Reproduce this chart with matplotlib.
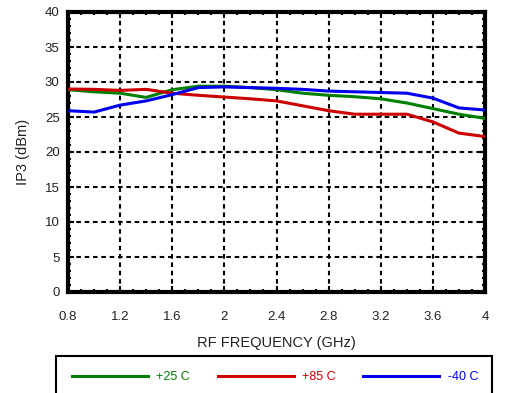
import matplotlib
matplotlib.use("Agg")
import matplotlib.pyplot as plt
from matplotlib.patches import Rectangle
from matplotlib.ticker import MultipleLocator

plt.rcParams['font.family'] = ['Liberation Sans', 'DejaVu Sans']

# RF frequency (GHz)
freq = [0.8, 1.0, 1.2, 1.4, 1.6, 1.8, 2.0, 2.2, 2.4, 2.6, 2.8, 3.0, 3.2, 3.4, 3.6, 3.8, 4.0]
# IP3 (dBm) per temperature
ip3_25 = [28.9, 28.6, 28.4, 27.8, 28.9, 29.4, 29.4, 29.2, 28.9, 28.4, 28.1, 27.9, 27.6, 27.0, 26.2, 25.4, 24.8]
ip3_85 = [29.0, 28.95, 28.8, 28.95, 28.4, 28.1, 27.85, 27.6, 27.3, 26.6, 25.9, 25.4, 25.4, 25.4, 24.3, 22.7, 22.2]
ip3_m40 = [25.9, 25.7, 26.7, 27.3, 28.2, 29.2, 29.3, 29.2, 29.1, 28.95, 28.7, 28.6, 28.5, 28.4, 27.7, 26.3, 26.0]

labels = ['+25 C', '+85 C', '-40 C']
colors = ['#008000', '#cc0000', '#0000ee']
txt_col = '#222222'

fig = plt.figure(figsize=(5.08, 3.93), dpi=100)
ax = fig.add_axes([68 / 508, 1 - 292 / 393, 417 / 508, 280 / 393])

lines = []
for y, c, lab in zip([ip3_25, ip3_85, ip3_m40], colors, labels):
    ln, = ax.plot(freq, y, color=c, lw=2.2, label=lab, zorder=3)
    lines.append(ln)

ax.set_xlim(0.8, 4.0)
ax.set_ylim(0, 40)
ax.xaxis.set_minor_locator(MultipleLocator(0.1))
ax.yaxis.set_major_locator(MultipleLocator(5))
ax.yaxis.set_minor_locator(MultipleLocator(1))
ax.set_xticks([0.8, 1.2, 1.6, 2.0, 2.4, 2.8, 3.2, 3.6, 4.0])
ax.set_xticklabels(['0.8', '1.2', '1.6', '2', '2.4', '2.8', '3.2', '3.6', '4'])

ax.tick_params(which='both', direction='in', top=True, right=True, width=1.5,
               labelsize=9.5, labelcolor=txt_col)
ax.tick_params(which='major', length=4)
ax.tick_params(which='minor', length=2.5)
ax.tick_params(axis='x', pad=14)
ax.tick_params(axis='y', pad=6)

ax.grid(True, which='major', color='black', lw=1.5, linestyle=(0, (2.2, 1.8)))
for s in ax.spines.values():
    s.set_linewidth(3)

ax.set_xlabel('RF FREQUENCY (GHz)', fontsize=10.5, labelpad=9, color=txt_col)
ax.set_ylabel('IP3 (dBm)', fontsize=10.5, labelpad=11, color=txt_col)

# legend box running off the bottom of the figure
fig.patches.append(Rectangle((56 / 508, -0.05), 436 / 508, 1 - 356 / 393 + 0.05,
                             transform=fig.transFigure, fill=False, ec='black', lw=1.5))
fig.legend(handles=lines, labels=labels, loc='center', ncol=3,
           bbox_to_anchor=(275 / 508, 1 - 377 / 393), frameon=False,
           handlelength=6.1, handletextpad=0.65, columnspacing=2.2,
           labelcolor='linecolor', fontsize=9)

fig.savefig('out.png', dpi=100)
